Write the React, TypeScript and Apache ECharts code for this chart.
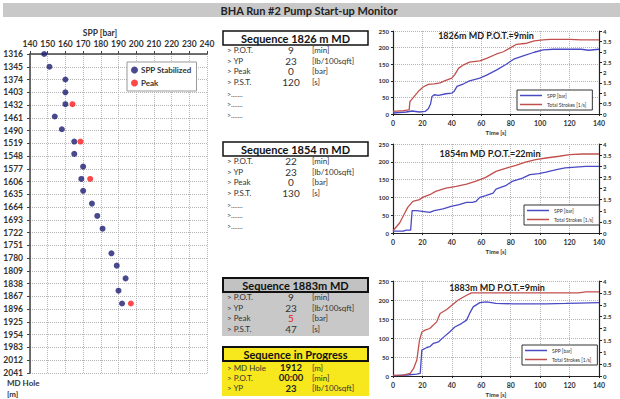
import React, { useEffect, useRef } from "react";
import * as echarts from "echarts";

// ---------- Left chart: SPP vs MD ----------
const depthMin = 1316;
const depthMax = 2041;
const depthStep = 29;
const sppTicksMin = 140;
const sppTicksMax = 240;

const stabDepth = [1316, 1345, 1374, 1403, 1430, 1458, 1487, 1515, 1543, 1572, 1600, 1627, 1656, 1684, 1713, 1769, 1797, 1826, 1854, 1883];
const stabSpp = [148, 151, 160, 160, 160, 154, 158, 165, 165, 170, 169, 170, 175, 178, 181, 186, 189, 194, 190, 192];
const peakDepth = [1430, 1515, 1600, 1883];
const peakSpp = [164, 168.5, 174, 197];

// ---------- Right charts ----------
const seq1SppT = [0, 9, 13, 18, 22, 24, 25.5, 26.5, 28, 31, 36, 40, 41.5, 43.5, 48, 52, 59, 64, 70.5, 77, 82, 89, 96, 102, 109, 118, 128, 133, 140];
const seq1SppV = [3, 6, 9, 6, 8, 16, 30, 53, 58, 56, 61, 63, 68, 83, 91, 100, 108, 118, 133, 150, 165, 176, 186, 193, 195, 195, 195, 192, 195];
const seq1StrT = [0, 7, 11, 11.5, 12.5, 15, 18, 20.5, 24, 28, 32, 35, 40, 42, 44.5, 48, 52, 59, 64, 70, 75, 80, 84, 91, 96, 102, 107, 120, 128, 140];
const seq1StrV = [0.13, 0.16, 0.2, 0.6, 0.68, 0.9, 1.15, 1.3, 1.43, 1.45, 1.5, 1.6, 1.73, 1.9, 2.2, 2.37, 2.5, 2.56, 2.69, 2.88, 3.0, 3.2, 3.36, 3.41, 3.52, 3.57, 3.6, 3.6, 3.57, 3.57];

const seq2SppT = [0, 7, 9, 12, 13, 16, 20, 25, 28, 34, 39.5, 45, 50, 54, 56.5, 59, 63, 68, 70, 77, 81, 88, 93, 99, 104, 111, 117, 124, 131, 140];
const seq2SppV = [5, 5, 8, 8, 63, 63, 61, 58, 63, 68, 75, 80, 86, 86, 89, 100, 105, 112, 123, 134, 145, 154, 164, 167, 171, 178, 183, 185, 187, 187];
const seq2StrT = [0, 4.5, 8, 10, 13.5, 18, 20, 25, 29, 36, 43, 50, 56, 63, 70, 77, 83.5, 90, 97, 104, 113, 120, 129, 140];
const seq2StrV = [0.1, 0.45, 0.9, 1.15, 1.42, 1.5, 1.6, 1.72, 1.87, 2.02, 2.1, 2.2, 2.32, 2.5, 2.77, 2.92, 3.04, 3.19, 3.3, 3.37, 3.45, 3.52, 3.55, 3.55];

const seq3SppT = [0, 9.5, 16, 18.5, 19.6, 23, 25, 27.5, 31, 34, 38.5, 42, 46.5, 50, 52, 54.5, 59, 63.5, 70, 81.5, 104, 117.5, 126.5, 140];
const seq3SppV = [1, 2.6, 5, 7, 68, 75, 77, 86, 90, 101, 116, 129, 138, 147, 164, 182, 193, 195, 191, 190, 190, 191, 192, 193];
const seq3StrT = [0, 7, 11.7, 14, 16.2, 18, 19.6, 21.8, 25, 29.7, 32, 36.5, 40, 44.3, 50, 53.3, 59, 90, 126, 131, 140];
const seq3StrV = [0.03, 0.04, 0.11, 0.32, 0.67, 1.5, 1.85, 1.93, 2.0, 2.28, 2.63, 2.8, 2.98, 3.2, 3.4, 3.5, 3.5, 3.5, 3.5, 3.54, 3.54];

const chartTitles = ["1826m MD P.O.T.=9min", "1854m MD P.O.T.=22min", "1883m MD P.O.T.=9min"];

// ---------- Sequence panels ----------
const seqLabels = ["> P.O.T.", "> YP", "> Peak", "> P.S.T."];
const seqUnits = ["[min]", "[lb/100sqft]", "[bar]", "[s]"];
const seq1Values = ["9", "23", "0", "120"];
const seq2Values = ["22", "23", "0", "130"];
const seq3Values = ["9", "23", "5", "47"];
const progLabels = ["> MD Hole", "> P.O.T.", "> YP"];
const progValues = ["1912", "00:00", "23"];
const progUnits = ["[m]", "[min]", "[lb/100sqft]"];

const FONT = 'Lato, "Open Sans", "Liberation Sans", sans-serif';
const BLUE = "#4a4ac4";
const RED = "#c0504d";

function txt(text: string, x: number, y: number, o: any = {}) {
  const align = o.align || "left";
  return {
    type: "text",
    x,
    y,
    z: 10,
    style: {
      text,
      fontSize: o.size || 8,
      fontWeight: o.weight || "normal",
      fontFamily: FONT,
      fill: o.color || "#333",
      align,
      verticalAlign: "middle",
      textAlign: align,
      textVerticalAlign: "middle",
      lineHeight: o.lh || undefined,
    },
  };
}

function seqPanel(title: string, top: number, labels: string[], values: string[], units: string[], o: any = {}) {
  const els: any[] = [];
  const rowGap = o.rowGap || 10.5;
  const first = o.first || 19;
  const vs = o.valueSize || 10;
  if (o.bg) {
    els.push({ type: "rect", shape: { x: 222, y: top - 1, width: 147, height: o.bgH }, style: { fill: o.bg }, z: 1 });
  }
  els.push({
    type: "rect",
    shape: { x: 223, y: top, width: 145, height: 14 },
    style: { fill: o.titleFill || "#fff", stroke: "#111", lineWidth: o.bw || 1.5 },
    z: 2,
  });
  els.push(txt(title, 295.5, top + 7.5, { size: 11, weight: "bold", color: "#111", align: "center" }));
  labels.forEach((l, i) => {
    const y = top + first + i * rowGap;
    els.push(txt(l, 227, y, { size: 8, color: "#333" }));
    els.push(
      txt(values[i], 291, y, {
        size: vs,
        lh: vs,
        align: "center",
        weight: o.valueWeight || "normal",
        color: o.valueColors ? o.valueColors[i] : "#333",
      })
    );
    els.push(txt(units[i], 312, y, { size: 8, color: "#333" }));
  });
  if (o.dots) {
    for (let k = 0; k < o.dots; k++) {
      els.push(txt(">.......", 227, top + first + (labels.length + k) * rowGap + 1.5, { size: 7, color: "#444" }));
    }
  }
  return els;
}

function buildOption() {
  const rightGrids = [
    { left: 393, top: 31, width: 206, height: 83 },
    { left: 393, top: 144, width: 206, height: 89 },
    { left: 393, top: 281, width: 206, height: 95 },
  ];
  const titlePos = [
    [486, 35],
    [490, 153],
    [497, 287],
  ];
  const legendPos = [
    [517, 90],
    [524, 205],
    [522, 345],
  ];
  const sppT = [seq1SppT, seq2SppT, seq3SppT];
  const sppV = [seq1SppV, seq2SppV, seq3SppV];
  const strT = [seq1StrT, seq2StrT, seq3StrT];
  const strV = [seq1StrV, seq2StrV, seq3StrV];

  const dotted = { show: true, lineStyle: { color: "#b5b5b5", type: "dotted", width: 1 } };
  const axisLbl = { fontFamily: FONT, color: "#333", fontWeight: "bold" };

  const grid: any[] = [{ left: 30, top: 54, width: 177, height: 319 }, ...rightGrids];
  const xAxis: any[] = [
    {
      gridIndex: 0,
      type: "value",
      position: "top",
      min: sppTicksMin,
      max: sppTicksMax,
      interval: 10,
      axisLine: { show: true, lineStyle: { color: "#444", width: 1.5 } },
      axisTick: { show: true, length: 3, lineStyle: { color: "#444" } },
      axisLabel: { ...axisLbl, fontSize: 8.5, margin: 6 },
      splitLine: dotted,
    },
  ];
  const yAxis: any[] = [
    {
      gridIndex: 0,
      type: "value",
      inverse: true,
      min: 0,
      max: depthMax - depthMin,
      interval: depthStep,
      axisLine: { show: true, lineStyle: { color: "#444", width: 1.5 } },
      axisTick: { show: true, length: 3, lineStyle: { color: "#444" } },
      axisLabel: { ...axisLbl, fontSize: 8.5, margin: 7, formatter: (v: number) => String(v + depthMin) },
      splitLine: dotted,
    },
  ];
  const series: any[] = [
    {
      name: "SPP Stabilized",
      type: "scatter",
      xAxisIndex: 0,
      yAxisIndex: 0,
      symbolSize: 6,
      itemStyle: { color: "#1c1c72" },
      data: stabSpp.map((v, i) => [v, stabDepth[i] - depthMin]),
    },
    {
      name: "Peak",
      type: "scatter",
      xAxisIndex: 0,
      yAxisIndex: 0,
      symbolSize: 6,
      itemStyle: { color: "#ff1c1c" },
      data: peakSpp.map((v, i) => [v, peakDepth[i] - depthMin]),
    },
  ];
  const legend: any[] = [
    {
      left: 127,
      top: 62,
      orient: "vertical",
      data: ["SPP Stabilized", "Peak"],
      icon: "circle",
      itemWidth: 7,
      itemHeight: 7,
      itemGap: 5,
      padding: [4, 5, 4, 4],
      borderColor: "#999",
      borderWidth: 1,
      backgroundColor: "#fff",
      textStyle: { fontFamily: FONT, fontSize: 8, fontWeight: "bold", color: "#333", padding: [0, 0, 0, -2] },
    },
  ];
  const graphic: any[] = [];

  rightGrids.forEach((g, k) => {
    const gi = k + 1;
    xAxis.push({
      gridIndex: gi,
      type: "value",
      min: 0,
      max: 140,
      interval: 20,
      axisLine: { show: true, onZero: false, lineStyle: { color: "#222", width: 1.2 } },
      axisTick: { show: true, length: 2, lineStyle: { color: "#222" } },
      axisLabel: { ...axisLbl, fontSize: 7, margin: 5 },
      splitLine: dotted,
      name: "Time [s]",
      nameLocation: "middle",
      nameGap: 15,
      nameTextStyle: { fontFamily: FONT, fontSize: 6, fontWeight: "bold", color: "#333" },
    });
    yAxis.push({
      gridIndex: gi,
      type: "value",
      min: 0,
      max: 250,
      interval: 50,
      axisLine: { show: true, lineStyle: { color: "#222", width: 1.2 } },
      axisTick: { show: true, length: 2, lineStyle: { color: "#222" } },
      axisLabel: { ...axisLbl, fontSize: 6, margin: 4 },
      splitLine: dotted,
    });
    yAxis.push({
      gridIndex: gi,
      type: "value",
      position: "right",
      min: 0,
      max: 4,
      interval: 0.5,
      axisLine: { show: true, lineStyle: { color: "#222", width: 1.2 } },
      axisTick: { show: true, length: 3, lineStyle: { color: "#222" } },
      axisLabel: { ...axisLbl, fontSize: 6, margin: 4 },
      splitLine: { show: false },
    });
    const leftIdx = yAxis.length - 2;
    const rightIdx = yAxis.length - 1;
    series.push({
      name: "SPP [bar]",
      type: "line",
      xAxisIndex: gi,
      yAxisIndex: leftIdx,
      showSymbol: false,
      lineStyle: { color: BLUE, width: 1.3 },
      itemStyle: { color: BLUE },
      data: sppT[k].map((t, i) => [t, sppV[k][i]]),
      z: 3,
    });
    series.push({
      name: "Total Strokes [1/s]",
      type: "line",
      xAxisIndex: gi,
      yAxisIndex: rightIdx,
      showSymbol: false,
      lineStyle: { color: RED, width: 1.3 },
      itemStyle: { color: RED },
      data: strT[k].map((t, i) => [t, strV[k][i]]),
      z: 3,
    });
    legend.push({
      left: legendPos[k][0],
      top: legendPos[k][1],
      orient: "vertical",
      data: ["SPP [bar]", "Total Strokes [1/s]"],
      icon: "rect",
      itemWidth: 22,
      itemHeight: 1.5,
      itemGap: 4,
      padding: [3, 6, 3, 3],
      borderColor: "#333",
      borderWidth: 1,
      backgroundColor: "#fff",
      textStyle: { fontFamily: FONT, fontSize: 5, color: "#333" },
    });
    graphic.push(txt(chartTitles[k], titlePos[k][0], titlePos[k][1], { size: 9, weight: "bold", color: "#222", align: "center" }));
  });

  // Title bar
  graphic.push({ type: "rect", shape: { x: 3, y: 3, width: 617, height: 14 }, style: { fill: "#c8c8c8" }, z: 1 });
  graphic.push(txt("BHA Run #2 Pump Start-up Monitor", 309, 10.5, { size: 11, weight: "bold", color: "#222", align: "center" }));
  // Left chart labels
  graphic.push(txt("SPP [bar]", 100, 33, { size: 8.5, weight: "bold", color: "#333", align: "center" }));
  graphic.push(txt("MD Hole", 7, 382.5, { size: 8, weight: "bold", color: "#333", lh: 8 }));
  graphic.push(txt("[m]", 7, 394, { size: 8, weight: "bold", color: "#333", lh: 8 }));

  // Sequence panels
  graphic.push(...seqPanel("Sequence 1826 m MD", 31, seqLabels, seq1Values, seqUnits, { dots: 3 }));
  graphic.push(...seqPanel("Sequence 1854 m MD", 142, seqLabels, seq2Values, seqUnits, { dots: 3 }));
  graphic.push(
    ...seqPanel("Sequence 1883m MD", 278, seqLabels, seq3Values, seqUnits, {
      bg: "#c8c8c8",
      bgH: 59,
      titleFill: "#c2c2c2",
      bw: 2,
      valueColors: ["#333", "#333", "#e02020", "#333"],
    })
  );
  graphic.push(
    ...seqPanel("Sequence in Progress", 347, progLabels, progValues, progUnits, {
      bg: "#f6e81c",
      bgH: 50,
      titleFill: "#f6e81c",
      bw: 2,
      first: 20.5,
      rowGap: 10.4,
      valueSize: 9.5,
      valueWeight: "bold",
      valueColors: ["#222", "#222", "#222"],
    })
  );

  return {
    animation: false,
    backgroundColor: "#fff",
    textStyle: { fontFamily: FONT },
    grid,
    xAxis,
    yAxis,
    series,
    legend,
    graphic,
  };
}

export default function App() {
  const ref = useRef<HTMLDivElement>(null);
  useEffect(() => {
    if (!ref.current) return;
    const chart = echarts.init(ref.current, null, { renderer: "svg" });
    chart.setOption(buildOption() as any);
    return () => chart.dispose();
  }, []);
  return (
    <div
      ref={ref}
      style={{ position: "absolute", left: 0, top: 0, width: 620, height: 399, background: "#fff" }}
    />
  );
}
